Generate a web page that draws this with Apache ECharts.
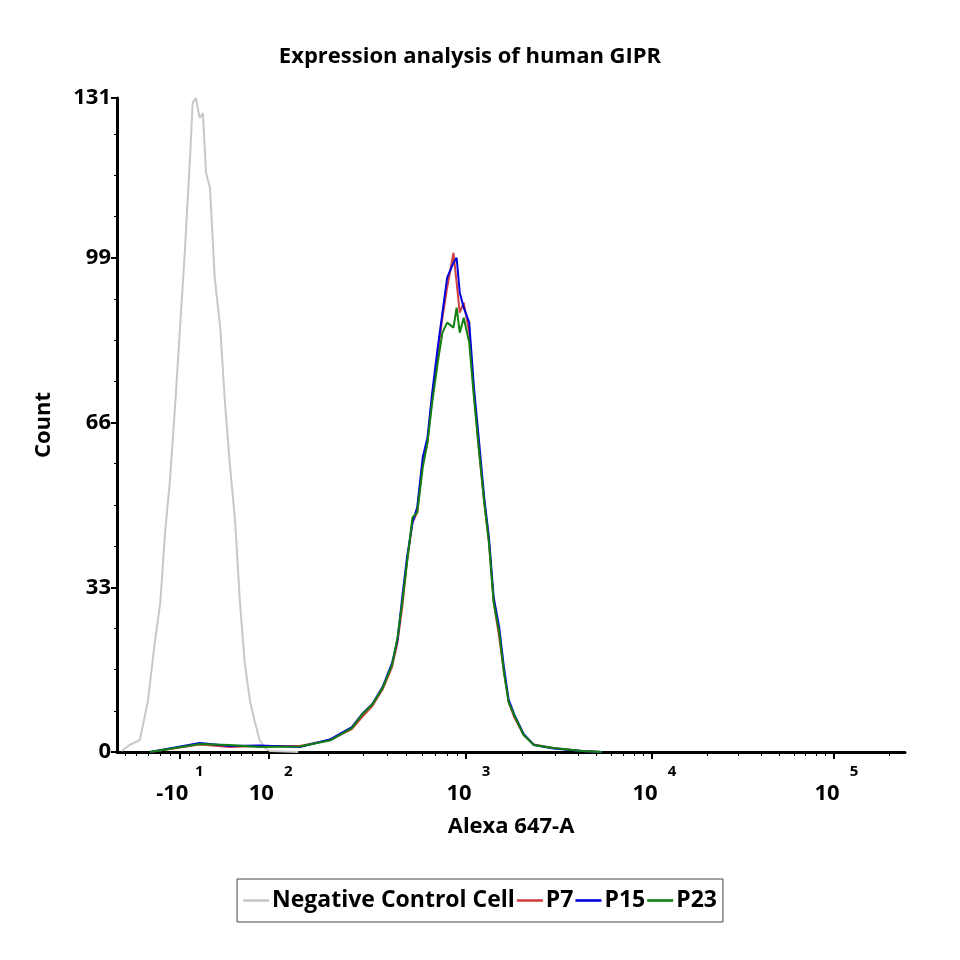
<!DOCTYPE html>
<html>
<head>
<meta charset="UTF-8">
<title>GIPR</title>
<style>
  body { margin: 0; background: #fff; }
  #box { width: 960px; height: 960px; }
</style>
<script src="https://cdn.jsdelivr.net/npm/echarts@6/dist/echarts.min.js"></script>
</head>
<body>
<div id="box"></div>
<script>
// x values are display-scale channel positions (0..1000 across the axis)
const negX = [6, 16, 29, 39, 48, 55, 61, 67, 74, 80, 86, 93, 96, 100, 105, 109, 113, 118, 124, 131, 137, 143, 150, 156, 162, 169, 175, 181, 188, 194, 230]
const negY = [0.2, 1.4, 2.4, 10, 22, 30, 44, 54, 70, 85, 100, 120, 130, 131, 127, 128, 116, 113, 95, 85, 70, 58, 46, 30, 18, 10, 6, 2.4, 0.8, 0.2, 0]

const posX = [42, 105, 143, 181, 232, 270, 298, 311, 324, 337, 349, 356, 362, 368, 375, 381, 388, 394, 400, 407, 413, 419, 427, 431, 435, 440, 447, 453, 459, 466, 472, 478, 485, 491, 497, 504, 516, 529, 554, 590, 615]
const p7 = [0, 1.5, 1, 1.2, 1.2, 2.4, 4.6, 7, 9.2, 12.5, 17, 22, 29, 38, 46, 48, 58, 62, 71, 80, 87, 93, 100, 94, 88, 90, 84, 72, 61, 50, 42, 30, 23, 16, 10, 7, 3.4, 1.5, 0.8, 0.2, 0]
const p15 = [0, 1.8, 1.2, 1.3, 1, 2.5, 5, 7.6, 9.6, 13, 17.8, 22.5, 31, 39, 46, 49, 59, 63, 72, 81, 88, 95, 98, 99, 92, 89, 86, 73, 63, 51, 43, 31, 25, 17, 10.5, 7.6, 3.6, 1.4, 0.7, 0.2, 0]
const p23 = [0, 1.6, 1.4, 1, 1.1, 2.3, 4.8, 7.5, 9.5, 12.8, 17.4, 23, 30, 38, 47, 48, 57, 62, 70, 78, 84, 86, 85, 89, 84, 87, 82, 71, 61, 50, 42, 30, 24, 16, 10, 7.4, 3.4, 1.4, 0.8, 0.2, 0]

const majorPos = [79, 192, 443, 679, 910]
const majorExp = ['1', '2', '3', '4', '5']
const majorBase = ['-10', '10', '10', '10', '10']
const yTicks = [0, 33, 66, 99, 131]

// minor ticks: log spacing inside each decade
let minorPos = [10, 25, 40, 55, 67, 79, 92, 105, 118, 131, 144, 158, 172]
for (let d = 1; d < majorPos.length; d++) {
    const a = majorPos[d], b = majorPos[d + 1] || (majorPos[d] + (majorPos[d] - majorPos[d - 1]))
    for (let k = 2; k <= 9; k++) {
        const p = a + (b - a) * Math.log10(k)
        if (p < 1000) minorPos.push(Math.round(p))
    }
}

function zip(xs, ys) {
    return xs.map((x, i) => [x, ys[i]])
}

const font = '"Open Sans", sans-serif'
const chart = echarts.init(document.getElementById('box'))

const lineSeries = (name, xs, ys, color) => ({
    name: name,
    type: 'line',
    data: zip(xs, ys),
    showSymbol: false,
    symbol: 'none',
    lineStyle: { color: color, width: 2 },
    itemStyle: { color: color },
    xAxisIndex: 0,
})

chart.setOption({
    animation: false,
    title: {
        text: 'Expression analysis of human GIPR',
        left: 465, top: 41, textAlign: 'center',
        textStyle: { fontFamily: font, fontWeight: 'bold', fontSize: 22, color: '#000' },
    },
    grid: { left: 117, right: 55, top: 98, bottom: 208 },
    legend: {
        bottom: 38, left: 'center',
        data: ['Negative Control Cell', 'P7', 'P15', 'P23'],
        icon: 'path://M0,0H10V1H0Z',
        itemWidth: 26, itemHeight: 3, itemGap: 2,
        borderColor: '#444', borderWidth: 1, padding: [10, 6, 10, 6],
        textStyle: { fontFamily: font, fontWeight: 'bold', fontSize: 23, color: '#000', padding: [0, 0, 0, -2] },
    },
    xAxis: [{
        type: 'value', min: 0, max: 1000,
        name: 'Alexa 647-A', nameLocation: 'middle', nameGap: 64,
        nameTextStyle: { fontFamily: font, fontWeight: 'bold', fontSize: 22, color: '#000' },
        axisLine: { lineStyle: { color: '#000', width: 3 } },
        splitLine: { show: false },
        axisTick: { show: true, length: 7, lineStyle: { color: '#000', width: 2 }, customValues: majorPos },
        axisLabel: {
            customValues: majorPos, margin: 10,
            formatter: function (v) {
                const i = majorPos.indexOf(v)
                return '{s|' + majorExp[i] + '}\n{b|' + majorBase[i] + '}'
            },
            rich: {
                s: { fontFamily: font, fontWeight: 'bold', fontSize: 15, color: '#000', padding: [0, 0, 0, 40], lineHeight: 20 },
                b: { fontFamily: font, fontWeight: 'bold', fontSize: 22, color: '#000', lineHeight: 24, padding: [0, 14, 0, 0] },
            },
        },
    }, {
        type: 'value', min: 0, max: 1000, position: 'bottom',
        axisLine: { show: false }, splitLine: { show: false }, axisLabel: { show: false },
        axisTick: { show: true, length: 4, lineStyle: { color: '#000', width: 1 }, customValues: minorPos },
    }],
    yAxis: {
        type: 'value', min: 0, max: 131, interval: 33,
        name: 'Count', nameLocation: 'middle', nameGap: 62, nameRotate: 90,
        nameTextStyle: { fontFamily: font, fontWeight: 'bold', fontSize: 22, color: '#000' },
        axisLine: { show: true, lineStyle: { color: '#000', width: 3 } },
        splitLine: { show: false },
        axisTick: { show: true, length: 6, lineStyle: { color: '#000', width: 2 }, customValues: yTicks },
        minorTick: { show: true, splitNumber: 4, length: 3, lineStyle: { color: '#000', width: 1 } },
        axisLabel: {
            customValues: yTicks, margin: 6,
            fontFamily: font, fontWeight: 'bold', fontSize: 22, color: '#000',
        },
    },
    series: [
        lineSeries('Negative Control Cell', negX, negY, '#c8c8c8'),
        lineSeries('P7', posX, p7, '#d04040'),
        lineSeries('P15', posX, p15, '#0000dd'),
        lineSeries('P23', posX, p23, '#108010'),
    ],
})
</script>
</body>
</html>
